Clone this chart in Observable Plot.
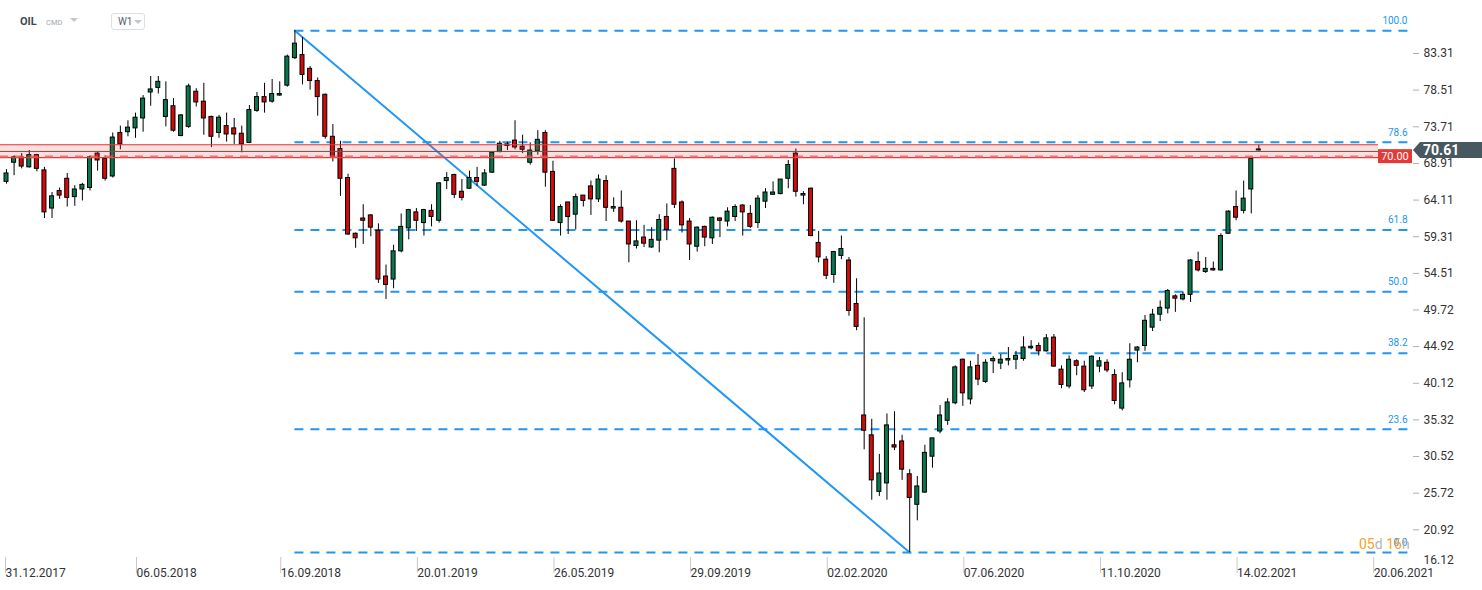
<!DOCTYPE html>
<html><head><meta charset="utf-8">
<script src="https://cdn.jsdelivr.net/npm/d3@7"></script>
<script src="https://cdn.jsdelivr.net/npm/@observablehq/plot@0.6"></script>
<style>
html,body{margin:0;padding:0;background:#fff;}
body{width:1482px;height:590px;overflow:hidden;position:relative;font-family:Roboto,"Open Sans",sans-serif;}
#chart{position:absolute;left:0;top:0;}
#hdr{position:absolute;left:0;top:0;width:300px;height:40px;}
#sym{position:absolute;left:20px;top:15px;font-size:11px;font-weight:bold;color:#3d4a53;}
#cmd{position:absolute;left:46px;top:18px;font-size:7.5px;color:#a0a8ad;}
.tri{position:absolute;width:0;height:0;border-left:4px solid transparent;border-right:4px solid transparent;border-top:4px solid #c3c7ca;}
#tf{position:absolute;left:111px;top:13px;width:34px;height:17px;border:1px solid #dcdfe1;border-radius:3px;box-sizing:border-box;}
#tft{position:absolute;left:6px;top:2px;font-size:10px;color:#55606a;}
#cd{position:absolute;left:1359px;top:536px;font-size:14px;white-space:nowrap;}
</style></head><body>
<div id="chart"></div>
<div id="hdr">
  <div id="sym">OIL</div><div id="cmd">CMD</div><div class="tri" style="left:70px;top:18px"></div>
  <div id="tf"><div id="tft">W1</div><div class="tri" style="left:22px;top:6px"></div></div>
</div>
<div id="cd"><span style="color:#f7a12a">05</span><span style="color:#b5b5b5">d </span><span style="color:#f7a12a">16</span><span style="color:#b5b5b5">h</span></div>
<script>
// ---- data (weekly candles, first week starting 2018-01-07) ----
const candleStart = "2018-01-07";
const opens = [66.5,69.0,69.7,68.4,70.0,68.0,63.0,65.3,66.9,64.5,65.5,65.7,70.2,69.5,67.2,72.9,73.0,73.5,74.8,78.2,78.8,75.0,76.4,72.5,73.7,78.3,77.0,75.0,72.9,73.8,73.5,72.8,71.6,75.8,77.6,77.0,77.8,79.1,82.7,83.1,81.3,79.7,77.9,72.4,70.8,67.0,59.7,61.7,62.1,60.1,54.1,53.7,57.4,60.4,62.5,61.1,62.7,61.4,66.6,67.4,65.2,65.6,67.0,66.0,67.7,70.4,71.4,71.9,71.1,69.0,70.5,72.9,67.8,61.1,63.8,62.2,64.7,65.9,64.2,66.6,63.0,63.1,61.3,58.1,59.2,57.9,58.8,61.9,68.2,63.8,61.3,58.0,60.6,59.1,61.7,61.3,61.9,63.4,62.3,61.1,63.9,64.8,64.9,66.9,70.2,64.7,65.6,58.5,56.3,54.3,56.8,56.2,50.5,35.9,33.3,25.9,27.0,32.0,32.5,28.2,24.2,25.8,30.5,33.8,35.2,37.5,43.2,38.0,42.4,40.3,43.0,42.7,43.1,43.2,43.3,44.7,45.0,44.3,46.1,41.9,39.7,43.0,42.3,39.7,42.3,42.8,41.2,36.8,40.5,44.4,45.0,47.4,49.1,49.9,51.5,51.1,51.7,56.0,54.7,55.1,54.9,59.7,63.2,62.7,65.5,70.75];
const highs = [68.1,69.9,70.2,70.6,70.1,68.4,65.1,65.7,67.6,66.0,66.3,69.9,70.3,69.9,72.9,73.8,74.5,75.5,77.8,80.3,80.3,79.6,77.4,75.3,79.3,78.7,79.4,75.1,75.2,75.5,74.8,73.8,76.5,78.2,79.4,79.9,79.6,83.1,86.3,85.4,81.6,80.1,78.0,74.0,71.8,67.5,59.8,63.5,62.2,61.0,55.6,58.2,62.3,62.9,63.0,62.9,63.5,66.4,67.7,67.5,66.8,67.9,68.4,68.1,70.4,71.8,71.7,74.5,72.6,71.6,73.2,73.2,69.2,63.5,63.8,64.9,64.7,66.6,67.4,67.3,64.4,65.3,61.3,61.4,60.8,60.5,62.2,63.6,69.5,64.0,61.7,60.6,60.7,61.9,61.8,63.1,63.5,63.5,63.4,64.7,65.6,66.5,66.8,69.3,70.8,65.2,65.7,60.0,56.7,57.4,59.4,56.6,53.8,48.7,35.4,30.8,36.1,36.4,33.3,28.8,27.9,32.0,32.9,37.2,38.1,42.4,43.3,43.0,43.9,43.2,43.6,43.9,44.8,44.3,46.2,45.7,45.4,46.5,46.5,42.4,43.7,43.2,43.0,43.7,43.5,43.2,41.9,41.5,45.3,44.9,49.0,49.8,50.9,52.4,51.7,52.0,56.3,57.3,56.6,56.0,59.7,62.7,65.3,66.6,69.6,71.3];
const lows = [66.2,67.3,68.2,68.3,67.8,61.7,61.7,64.2,63.2,63.3,64.0,65.3,67.9,66.6,67.0,70.7,72.4,72.2,73.0,76.4,78.0,73.7,73.0,72.4,73.5,76.3,72.6,71.0,72.2,71.7,71.4,70.3,71.5,75.6,75.5,76.8,77.7,78.9,82.5,79.2,78.5,75.1,72.1,69.1,64.6,59.5,57.8,58.3,59.3,53.2,51.1,52.5,57.2,58.9,60.0,59.4,60.6,61.1,65.5,64.3,64.0,65.5,65.9,65.9,67.6,70.3,70.6,70.7,70.2,68.7,70.0,65.8,61.3,59.4,59.6,60.2,63.2,62.1,63.8,61.3,62.5,61.1,55.9,57.7,57.9,57.8,57.2,58.8,63.0,59.8,56.2,57.3,58.0,58.3,59.2,60.6,61.3,59.4,60.4,60.4,63.0,64.8,64.8,65.6,64.5,63.5,59.3,55.9,53.7,53.2,56.3,48.9,47.0,31.4,24.8,25.3,24.8,31.3,27.4,17.95,22.1,25.7,29.0,33.5,34.6,37.3,37.1,37.3,39.8,40.1,41.4,41.9,42.4,41.9,43.0,44.5,43.7,44.2,42.2,39.4,39.4,41.1,38.9,39.3,41.5,41.5,37.3,36.5,39.5,42.8,44.3,46.9,48.2,49.2,49.4,50.9,50.7,54.7,54.5,54.8,54.8,59.6,61.4,62.3,62.3,70.5];
const closes = [67.6,69.7,68.5,70.0,68.2,62.5,64.6,64.7,64.4,65.5,66.1,69.7,69.3,66.9,72.3,71.4,73.6,74.9,77.4,78.6,79.6,77.2,73.2,75.2,79.0,76.9,74.8,72.4,74.9,72.7,72.7,71.4,75.9,77.6,76.9,78.0,78.0,82.9,84.6,80.5,79.7,77.6,72.4,69.7,66.9,59.6,59.1,61.4,60.5,53.7,53.0,57.4,60.6,62.8,61.4,62.8,61.9,66.3,67.0,64.8,64.4,67.0,66.5,67.6,70.3,71.5,71.2,71.0,70.7,70.6,72.0,67.7,61.4,63.2,61.9,64.5,64.0,64.2,66.8,63.1,63.2,61.3,58.3,58.7,58.4,58.9,61.5,60.2,63.5,60.8,58.3,60.5,59.2,61.8,61.4,62.6,63.2,62.5,60.6,64.3,65.1,65.1,66.8,68.7,65.2,64.9,59.4,56.6,54.2,57.3,57.7,49.6,47.5,33.9,27.4,28.3,34.6,31.7,28.8,25.1,26.6,31.0,32.9,35.9,37.6,42.2,38.8,42.2,40.6,42.8,43.3,43.2,43.3,43.7,44.8,44.9,44.3,46.0,42.3,39.9,43.2,42.4,39.2,43.6,43.0,41.8,37.8,40.1,43.2,44.8,48.3,49.1,50.0,52.2,51.2,51.7,56.2,54.9,55.1,54.9,59.4,62.6,61.8,64.3,69.5,70.61];

const yTicks = [16.12,20.92,25.72,30.52,35.32,40.12,44.92,49.72,54.51,59.31,64.11,68.91,73.71,78.51,83.31];
const xTickLabels = ["31.12.2017","06.05.2018","16.09.2018","20.01.2019","26.05.2019","29.09.2019","02.02.2020","07.06.2020","11.10.2020","14.02.2021","20.06.2021"];
const fibLabels = ["100.0","78.6","61.8","50.0","38.2","23.6","0.0"];
const fibValues = [86.3,71.67,60.19,52.12,44.06,34.08,17.95];
const fibAnchorHigh = 38;   // candle index of the swing high
const fibAnchorLow = 119;   // candle index of the swing low
const zoneTop = 71.36, zoneBottom = 69.66, zoneMid = 70.48, zoneLevel = 69.8;
const zoneLabel = "70.00";
const lastPrice = 70.61;

// ---- build ----
const DAY = 864e5, WEEK = 7*DAY;
const t0 = d3.utcParse("%Y-%m-%d")(candleStart).getTime();
const candles = opens.map((o,i)=>({date:new Date(t0+i*WEEK), open:o, high:highs[i], low:lows[i], close:closes[i]}));
const parseTick = d3.utcParse("%d.%m.%Y");
const xTicks = xTickLabels.map(parseTick);

// horizontal calibration: pixels per week and position of 31.12.2017
const W = 1482, H = 590, mR = 70, mB = 24;
const plotW = W - mR;
const origin = parseTick("31.12.2017").getTime();
const pxPerWeek = 7.59, originPx = -1.59;
const pxToDate = px => new Date(origin + (px - originPx)/pxPerWeek*WEEK);
const xStart = pxToDate(0), xEnd = pxToDate(plotW);
const half = 2/pxPerWeek*WEEK;
const zoneEnd = pxToDate(plotW - 34);
// first axis label is pushed inside the plot, as the platform does
const firstTickPos = new Date(Math.max(+xTicks[0], +pxToDate(4)));
const fmt = d3.utcFormat("%d.%m.%Y");

const fib = fibValues.map((v,i)=>({v, label:fibLabels[i]}));
const peak = candles[fibAnchorHigh], trough = candles[fibAnchorLow];
const diag = [{date:peak.date, v:peak.high},{date:trough.date, v:trough.low}];

const blue = "#2196f3";
const xAxisOpts = {anchor:"bottom", tickSize:16, tickPadding:0, textAnchor:"start", lineAnchor:"middle", dx:1, dy:-9, stroke:"#c8c8c8", fill:"#333", fontSize:12};
const chart = Plot.plot({
  width: W, height: H,
  marginTop: 0, marginBottom: mB, marginLeft: 0, marginRight: mR,
  x: {type:"utc", domain:[xStart, xEnd]},
  y: {domain:[16.12, 90.25]},
  style: {fontFamily:"Roboto, sans-serif", fontSize:"12px", background:"transparent", overflow:"visible"},
  marks: [
    Plot.ruleY(fib, {y:"v", x1:()=>peak.date, x2:()=>xEnd, stroke:blue, strokeWidth:2, strokeDasharray:"9,7"}),
    Plot.line(diag, {x:"date", y:"v", stroke:blue, strokeWidth:2}),
    Plot.ruleX(candles, {x:"date", y1:"low", y2:"high", stroke:"#000", strokeWidth:1}),
    Plot.rect(candles, {x1:d=>new Date(+d.date-half), x2:d=>new Date(+d.date+half), y1:"open", y2:"close",
      fill:d=>d.close>=d.open?"#08784c":"#d20a0a", stroke:"#000", strokeWidth:1}),
    // resistance zone
    Plot.rect([0], {x1:()=>xStart, x2:()=>zoneEnd, y1:()=>zoneBottom, y2:()=>zoneTop, fill:"#f0393a", fillOpacity:0.17}),
    Plot.ruleY([zoneTop, zoneBottom], {x1:()=>xStart, x2:()=>zoneEnd, stroke:"#e53935", strokeWidth:1.2}),
    Plot.ruleY([zoneMid], {x1:()=>xStart, x2:()=>zoneEnd, stroke:"#6e5252", strokeWidth:1}),
    Plot.ruleY([zoneLevel], {x1:()=>xStart, x2:()=>zoneEnd, stroke:"#ef5350", strokeOpacity:0.75, strokeWidth:2.5, strokeDasharray:"8,7"}),
    // fib labels
    Plot.text(fib, {x:()=>xEnd, y:"v", text:"label", textAnchor:"end", dx:-5, dy:-10, fill:blue, fontSize:10}),
    // axes
    Plot.axisY(yTicks.slice(1), {anchor:"right", tickSize:6, tickPadding:5, tickFormat:d=>d.toFixed(2), stroke:"#b0b0b0", fill:"#333", fontSize:12}),
    Plot.text([yTicks[0]], {x:()=>xEnd, y:d=>d, text:d=>d.toFixed(2), textAnchor:"start", dx:11, dy:-6, fill:"#333", fontSize:12}),
    Plot.axisX(xTicks.slice(1), {...xAxisOpts, tickFormat:fmt}),
    Plot.axisX([firstTickPos], {...xAxisOpts, tickFormat:()=>xTickLabels[0]})
  ]
});
document.getElementById("chart").appendChild(chart);

// price tags drawn with the chart's own y scale
const ys = chart.scale("y");
const svg = d3.select(chart.tagName.toLowerCase()==="svg" ? chart : chart.querySelector("svg"));
const yz = ys.apply(zoneLevel);
const g1 = svg.append("g");
g1.append("rect").attr("x", plotW-34).attr("y", yz-7).attr("width", 34).attr("height", 14).attr("fill", "#e53935");
g1.append("text").attr("x", plotW-17).attr("y", yz).attr("dy","0.35em").attr("text-anchor","middle")
  .attr("fill","#fff").attr("font-size",11).text(zoneLabel);
const yp = ys.apply(lastPrice);
const g2 = svg.append("g");
g2.append("path").attr("d", `M${plotW+1},${yp} L${plotW+8},${yp-8} H${W} V${yp+8} H${plotW+8} Z`).attr("fill", "#485861");
g2.append("text").attr("x", plotW+11).attr("y", yp).attr("dy","0.36em").attr("text-anchor","start").attr("fill","#fff")
  .attr("font-size",14).attr("font-weight","bold").text(lastPrice.toFixed(2));
</script>
</body></html>
